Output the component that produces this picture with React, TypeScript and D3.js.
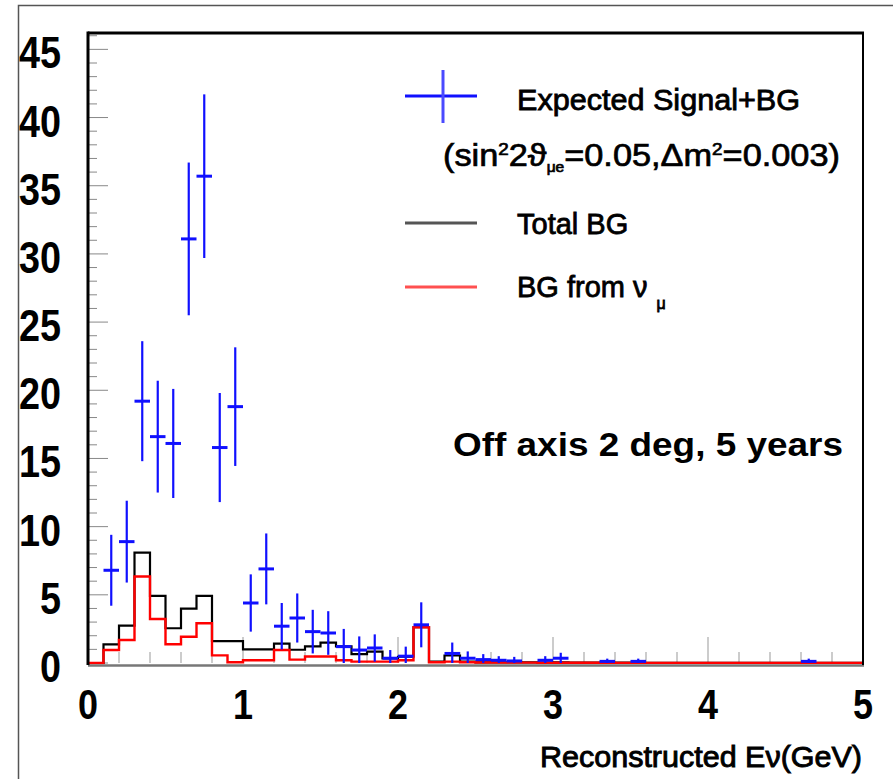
import React from 'react';
import * as d3 from 'd3';

// ---- data ----
const binWidth = 0.1;
const xDomain = [0, 5];
const yDomain = [0, 46.2];
const yTickLabels = [0, 5, 10, 15, 20, 25, 30, 35, 40, 45];
const xTickLabels = [0, 1, 2, 3, 4, 5];

// Total BG histogram, bins 0.0-0.1 ... 4.9-5.0
const totalBG = [
  0, 1.37, 2.74, 8.1, 4.92, 2.55, 3.99, 4.92, 1.6, 1.6,
  1.0, 1.0, 1.42, 0.97, 1.22, 1.5, 1.22, 0.65, 0.83, 0.34,
  0.46, 2.62, 0.1, 0.55, 0.1, 0.05, 0.05, 0.04, 0.05, 0.03,
  0.04, 0.03, 0.03, 0.02, 0.03, 0.02, 0.02, 0.02, 0.02, 0.01,
  0.02, 0.01, 0.01, 0.01, 0.01, 0.01, 0.01, 0.01, 0.01, 0.01,
];

// BG from nu_mu histogram
const numuBG = [
  0, 0.95, 1.69, 6.34, 3.23, 1.37, 1.93, 2.91, 0.56, 0.05,
  0.2, 0.2, 0.95, 0.25, 0.48, 0.48, 0.2, 0.1, 0.1, 0.1,
  0.2, 2.62, 0.05, 0.1, 0.05, 0.04, 0.03, 0.03, 0.03, 0.02,
  0.02, 0.02, 0.02, 0.02, 0.01, 0.01, 0.01, 0.01, 0.01, 0.01,
  0.01, 0.01, 0.01, 0.01, 0.01, 0.01, 0.01, 0.01, 0.01, 0.01,
];

// Expected Signal+BG points (bin centre, value, error)
const sigX = [
  0.15, 0.25, 0.35, 0.45, 0.55, 0.65, 0.75, 0.85, 0.95, 1.05,
  1.15, 1.25, 1.35, 1.45, 1.55, 1.65, 1.75, 1.85, 1.95, 2.05,
  2.15, 2.35, 2.45, 2.55, 2.65, 2.75, 2.95, 3.05, 3.35, 3.55, 4.65,
];
const sigY = [
  6.8, 8.9, 19.2, 16.6, 16.1, 31.1, 35.7, 15.8, 18.8, 4.4,
  6.9, 2.7, 3.3, 2.3, 2.2, 1.2, 0.95, 1.1, 0.35, 0.5,
  2.8, 0.7, 0.35, 0.25, 0.2, 0.15, 0.2, 0.35, 0.12, 0.12, 0.12,
];
const sigErr = [
  2.6, 3.0, 4.4, 4.1, 4.0, 5.6, 6.0, 4.0, 4.35, 2.1,
  2.6, 1.7, 1.8, 1.6, 1.6, 1.3, 1.0, 1.0, 0.6, 0.7,
  1.65, 0.8, 0.5, 0.4, 0.3, 0.3, 0.3, 0.4, 0.2, 0.2, 0.2,
];

const FONT = "'Liberation Sans', Arial, Helvetica, sans-serif";

export default function App() {
  const W = 893;
  const H = 779;
  const left = 88, right = 863, top = 33, bottom = 663;
  const x = d3.scaleLinear().domain(xDomain).range([left, right]);
  const y = d3.scaleLinear().domain(yDomain).range([bottom, top]);

  const stepLine = d3
    .line<[number, number]>()
    .x((d) => x(d[0]))
    .y((d) => y(d[1]))
    .curve(d3.curveStepAfter);

  const histPts = (vals: number[]): [number, number][] => {
    const pts: [number, number][] = vals.map((v, i) => [i * binWidth, v]);
    pts.push([xDomain[1], vals[vals.length - 1]]);
    return pts;
  };

  const yMinor = d3.range(0, 47, 1);
  const xMinor = d3.range(0, 51, 2).map((i) => i / 10);

  return (
    <div style={{ position: 'absolute', left: 0, top: 0 }}>
      <svg width={W} height={H} style={{ display: 'block', background: '#fff' }}>
        {/* outer pad frame */}
        <path d={`M18.5,${H} L18.5,5.5 L${W},5.5`} fill="none" stroke="#555" strokeWidth={1.5} />

        {/* y ticks */}
        {yMinor.map((v) => {
          const major = v % 5 === 0;
          return (
            <line key={'yt' + v} x1={left} x2={left + (major ? 20 : 9)} y1={y(v)} y2={y(v)}
              stroke="#888" strokeWidth={1} />
          );
        })}
        {/* x ticks */}
        {xMinor.map((v) => {
          const major = Math.abs(v - Math.round(v)) < 1e-6;
          return (
            <line key={'xt' + v} x1={x(v)} x2={x(v)} y1={bottom} y2={bottom - (major ? 26 : 11)}
              stroke="#999" strokeWidth={1} />
          );
        })}

        {/* histograms */}
        <path d={stepLine(histPts(totalBG)) || ''} fill="none" stroke="#000" strokeWidth={2.2} />
        <path d={stepLine(histPts(numuBG)) || ''} fill="none" stroke="#ff0000" strokeWidth={2.4} />

        {/* bottom axis line */}
        <line x1={left} x2={right + 1} y1={bottom + 2.5} y2={bottom + 2.5} stroke="#777" strokeWidth={2.5} />

        {/* frame */}
        <line x1={left} x2={left} y1={top - 1.5} y2={bottom + 2} stroke="#000" strokeWidth={3} />
        <line x1={left} x2={right + 1} y1={top} y2={top} stroke="#000" strokeWidth={3} />
        <line x1={right} x2={right} y1={top} y2={bottom + 2} stroke="#000" strokeWidth={2} />

        {/* signal + BG points */}
        {sigX.map((cx, i) => (
          <g key={'s' + i}>
            <line x1={x(cx)} x2={x(cx)} y1={y(Math.max(0, sigY[i] - sigErr[i]))} y2={y(sigY[i] + sigErr[i])}
              stroke="#1010ff" strokeWidth={2.2} />
            <line x1={x(cx - binWidth / 2)} x2={x(cx + binWidth / 2)} y1={y(sigY[i])} y2={y(sigY[i])}
              stroke="#1010ff" strokeWidth={3} />
          </g>
        ))}

        {/* y tick labels */}
        {yTickLabels.map((v) => (
          <text key={'yl' + v} x={61} y={y(v) + 19} textAnchor="end" fontFamily={FONT}
            fontWeight="bold" fontSize={44} fill="#000"
            textLength={String(v).length * 21} lengthAdjust="spacingAndGlyphs">
            {v}
          </text>
        ))}
        {/* x tick labels */}
        {xTickLabels.map((v) => (
          <text key={'xl' + v} x={x(v)} y={719} textAnchor="middle" fontFamily={FONT}
            fontWeight="bold" fontSize={42} fill="#000"
            textLength={20} lengthAdjust="spacingAndGlyphs">
            {v}
          </text>
        ))}

        {/* x axis title */}
        <text x={540} y={767} fontFamily={FONT} fontSize={29} fill="#000" textLength={322}
          lengthAdjust="spacingAndGlyphs" stroke="#000" strokeWidth={0.9}>
          Reconstructed Eν(GeV)
        </text>

        {/* legend */}
        <line x1={405} x2={477} y1={96} y2={96} stroke="#1010ff" strokeWidth={3} />
        <line x1={443} x2={443} y1={70} y2={123} stroke="#4a4aff" strokeWidth={3} />
        <text x={517} y={110} fontFamily={FONT} fontSize={29} fill="#000" textLength={283}
          lengthAdjust="spacingAndGlyphs" stroke="#000" strokeWidth={0.8}>
          Expected Signal+BG
        </text>
        <text x={443} y={166} fontFamily={FONT} fontSize={31} fill="#000" stroke="#000" strokeWidth={0.7}
          textLength={397} lengthAdjust="spacingAndGlyphs">
          (sin<tspan dy={-11} fontSize={17}>2</tspan>
          <tspan dy={11}>2ϑ</tspan>
          <tspan dy={6} fontSize={14}>μe</tspan>
          <tspan dy={-6}>=0.05,Δm</tspan>
          <tspan dy={-11} fontSize={17}>2</tspan>
          <tspan dy={11}>=0.003)</tspan>
        </text>
        <line x1={405} x2={477} y1={223} y2={223} stroke="#555" strokeWidth={3} />
        <text x={517} y={234} fontFamily={FONT} fontSize={29} fill="#000" stroke="#000" strokeWidth={0.8}>
          Total BG
        </text>
        <line x1={405} x2={477} y1={287} y2={287} stroke="#ff5050" strokeWidth={3} />
        <text x={517} y={297} fontFamily={FONT} fontSize={29} fill="#000" stroke="#000" strokeWidth={0.8}>
          BG from ν<tspan dx={9} dy={12} fontSize={16}>μ</tspan>
        </text>

        {/* annotation */}
        <text x={453} y={456} fontFamily={FONT} fontWeight="bold" fontSize={34} fill="#000"
          textLength={390} lengthAdjust="spacingAndGlyphs">
          Off axis 2 deg, 5 years
        </text>
      </svg>
    </div>
  );
}
